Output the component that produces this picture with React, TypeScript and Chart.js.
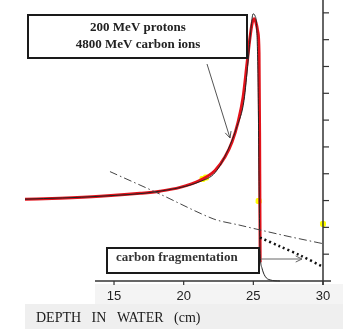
import { useEffect, useRef } from 'react';
import { Chart, registerables } from 'chart.js';

Chart.register(...registerables);

// Depth (cm) / relative dose readings
const protonDepth = [8.61, 14.0, 18.3, 21.17, 22.25, 23.18, 23.83, 24.33, 24.62, 24.83, 24.98, 25.12, 25.26, 25.34, 25.41, 25.48, 25.62, 25.84, 26.2, 26.91];
const protonDose = [3.05, 3.16, 3.35, 3.71, 4.04, 4.89, 5.77, 6.73, 8.2, 9.41, 9.96, 9.89, 9.23, 7.39, 3.71, 1.14, 0.48, 0.18, 0.04, 0.0];

const carbonDepth = [8.61, 11.12, 14.0, 16.87, 18.3, 19.74, 21.17, 22.25, 22.97, 23.47, 23.9, 24.26, 24.55, 24.76, 24.91, 25.05, 25.19, 25.32, 25.41, 25.45, 25.47, 25.49];
const carbonDose = [3.05, 3.09, 3.16, 3.27, 3.35, 3.49, 3.75, 4.12, 4.63, 5.18, 5.92, 6.84, 8.13, 9.08, 9.6, 9.78, 9.63, 9.3, 8.5, 5.5, 3.0, 0.7];

const fragDepth = [25.48, 26.91, 28.35, 30.0];
const fragDose = [1.62, 1.29, 0.96, 0.53];

const photonDepth = [14.71, 18.3, 22.11, 24.04, 25.26, 27.63, 29.93];
const photonDose = [4.08, 3.24, 2.32, 2.08, 1.93, 1.65, 1.4];

const markerDepth = [21.35, 21.6, 25.38, 30.0];
const markerDose = [3.8, 3.86, 2.98, 2.13];

const xTicks = [15, 20, 25, 30];
const yTicks = [1, 2, 3, 4, 5, 6, 7, 8, 9, 10];

const xMin = 8.61;
const xMax = 30;
const yMin = 0;
const yMax = 10.33;

const boxLines = ['200 MeV protons', '4800 MeV carbon ions'];
const fragLabel = 'carbon fragmentation';
const axisTitle = 'DEPTH   IN   WATER   (cm)';

const pts = (xs: number[], ys: number[]) => xs.map((x, i) => ({ x, y: ys[i] }));

function arrowHead(ctx: CanvasRenderingContext2D, x1: number, y1: number, x2: number, y2: number, size: number) {
  const a = Math.atan2(y2 - y1, x2 - x1);
  ctx.beginPath();
  ctx.moveTo(x2 - size * Math.cos(a - 0.45), y2 - size * Math.sin(a - 0.45));
  ctx.lineTo(x2, y2);
  ctx.lineTo(x2 - size * Math.cos(a + 0.45), y2 - size * Math.sin(a + 0.45));
  ctx.stroke();
}

const decorPlugin = {
  id: 'decor',
  beforeDraw(chart: any) {
    const ctx = chart.ctx as CanvasRenderingContext2D;
    ctx.save();
    ctx.fillStyle = '#ffffff';
    ctx.fillRect(0, 0, chart.width, chart.height);
    ctx.fillStyle = '#f4f4f4';
    ctx.fillRect(95, 284, 248, 20);
    ctx.fillStyle = '#efefef';
    ctx.fillRect(25, 304, 318, 25);
    ctx.restore();
  },
  afterDatasetsDraw(chart: any) {
    const ctx = chart.ctx as CanvasRenderingContext2D;
    const xs = chart.scales.x;
    const ys = chart.scales.y;
    const y0 = ys.getPixelForValue(0);
    const xR = xs.getPixelForValue(30);
    ctx.save();
    // x axis line
    ctx.strokeStyle = '#333';
    ctx.lineWidth = 1.5;
    ctx.beginPath();
    ctx.moveTo(95, y0);
    ctx.lineTo(331, y0);
    ctx.stroke();
    // right axis line
    ctx.beginPath();
    ctx.moveTo(xR, 0);
    ctx.lineTo(xR, y0 + 4);
    ctx.stroke();
    // x ticks + labels
    ctx.lineWidth = 1.2;
    ctx.fillStyle = '#222';
    ctx.font = '13px "Liberation Sans", sans-serif';
    ctx.textAlign = 'center';
    ctx.textBaseline = 'middle';
    xTicks.forEach((t) => {
      const px = xs.getPixelForValue(t);
      ctx.beginPath();
      ctx.moveTo(px, y0);
      ctx.lineTo(px, y0 + 4);
      ctx.stroke();
      ctx.fillText(String(t), px, y0 + 15);
    });
    // right axis ticks
    yTicks.forEach((t) => {
      const py = ys.getPixelForValue(t);
      ctx.beginPath();
      ctx.moveTo(xR, py);
      ctx.lineTo(xR + 6, py);
      ctx.stroke();
    });
    // axis title
    ctx.font = '14px "Liberation Serif", serif';
    ctx.textAlign = 'left';
    ctx.fillStyle = '#1a1a1a';
    ctx.fillText(axisTitle, 36, 318);

    // annotation box 1
    ctx.fillStyle = '#ffffff';
    ctx.fillRect(28, 15, 219, 43);
    ctx.strokeStyle = '#1a1a1a';
    ctx.lineWidth = 2;
    ctx.strokeRect(28, 15, 219, 43);
    ctx.fillStyle = '#222';
    ctx.font = 'bold 13px "Liberation Serif", serif';
    ctx.textAlign = 'center';
    ctx.fillText(boxLines[0], 138, 28);
    ctx.fillText(boxLines[1], 138, 45);
    // arrow 1
    ctx.strokeStyle = '#555';
    ctx.lineWidth = 1;
    ctx.beginPath();
    ctx.moveTo(207, 64);
    ctx.lineTo(230, 138);
    ctx.stroke();
    arrowHead(ctx, 207, 64, 230, 138, 7);

    // annotation box 2
    ctx.fillStyle = '#ffffff';
    ctx.fillRect(107, 248, 152, 25);
    ctx.strokeStyle = '#1a1a1a';
    ctx.lineWidth = 2;
    ctx.strokeRect(107, 248, 152, 25);
    ctx.fillStyle = '#333';
    ctx.font = 'bold 13px "Liberation Serif", serif';
    ctx.textAlign = 'left';
    ctx.fillText(fragLabel, 116, 258);
    // arrow 2
    ctx.strokeStyle = '#666';
    ctx.lineWidth = 1;
    ctx.beginPath();
    ctx.moveTo(261, 259);
    ctx.lineTo(302, 259);
    ctx.stroke();
    arrowHead(ctx, 261, 259, 302, 259, 7);
    ctx.restore();
  },
};

export default function App() {
  const ref = useRef<HTMLCanvasElement | null>(null);
  useEffect(() => {
    if (!ref.current) return;
    const chart = new Chart(ref.current, {
      type: 'line',
      data: {
        datasets: [
          {
            label: 'photons',
            data: pts(photonDepth, photonDose),
            borderColor: '#444',
            borderWidth: 1,
            borderDash: [8, 3, 1.5, 3],
            pointRadius: 0,
            tension: 0.3,
            clip: false,
          } as any,
          {
            label: 'fragmentation tail',
            data: pts(fragDepth, fragDose),
            borderColor: '#111',
            borderWidth: 2.5,
            borderDash: [2, 3],
            pointRadius: 0,
            tension: 0.3,
            clip: false,
          },
          {
            label: 'protons',
            data: pts(protonDepth, protonDose),
            borderColor: '#222',
            borderWidth: 1,
            pointRadius: 0,
            cubicInterpolationMode: 'monotone',
            clip: false,
          },
          {
            label: 'carbon',
            data: pts(carbonDepth, carbonDose),
            borderColor: '#e3121b',
            borderWidth: 3,
            pointRadius: 0,
            cubicInterpolationMode: 'monotone',
            clip: false,
          },
          {
            label: 'marks',
            data: pts(markerDepth, markerDose),
            showLine: false,
            pointRadius: 3.5,
            pointStyle: 'rectRounded',
            backgroundColor: '#ffff00',
            borderColor: '#ffff00',
            borderWidth: 0,
            clip: false,
          },
        ],
      },
      options: {
        animation: false,
        responsive: false,
        events: [],
        layout: { padding: { left: 25, right: 20, top: 0, bottom: 48 } },
        plugins: { legend: { display: false }, tooltip: { enabled: false }, title: { display: false } },
        scales: {
          x: { type: 'linear', min: xMin, max: xMax, display: false },
          y: { type: 'linear', min: yMin, max: yMax, display: false },
        },
      },
      plugins: [decorPlugin],
    });
    return () => chart.destroy();
  }, []);
  return (
    <div style={{ position: 'absolute', left: 0, top: 0, width: 343, height: 329 }}>
      <canvas ref={ref} width={343} height={329} style={{ width: 343, height: 329, display: 'block' }} />
    </div>
  );
}
